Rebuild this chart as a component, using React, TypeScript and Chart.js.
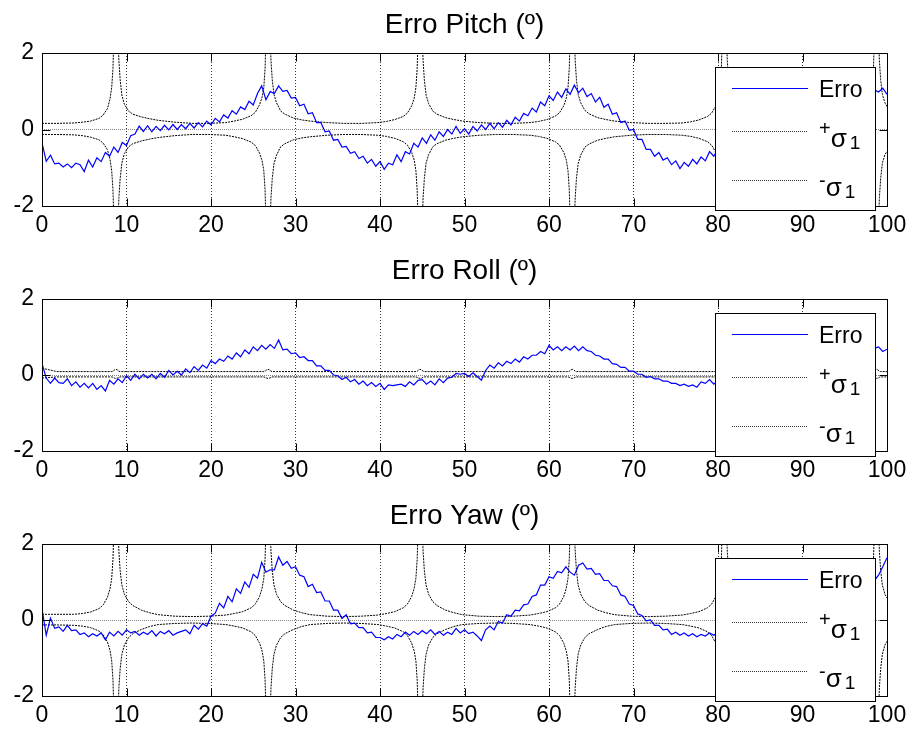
import React, { useEffect, useRef } from 'react';
import { Chart, registerables } from 'chart.js';

Chart.register(...registerables);

const FONT = '"Liberation Sans", Arial, Helvetica, sans-serif';

const xTicks = [0, 10, 20, 30, 40, 50, 60, 70, 80, 90, 100];
const yTicks = [-2, 0, 2];
const titles = ['Erro Pitch (º)', 'Erro Roll (º)', 'Erro Yaw (º)'];
const legendNames = ['Erro', '+σ1', '-σ1'];

// time samples of the error series (every 0.5 s)
const erroX = Array.from({ length: 201 }, (_, i) => i * 0.5);

const pitchErro = [
  -0.35, -0.83, -0.67, -0.90, -0.88, -0.98, -0.90, -1.00, -0.88, -0.92,
  -1.10, -0.80, -0.98, -0.74, -0.84, -0.60, -0.70, -0.46, -0.60, -0.34,
  -0.42, -0.16, -0.12, 0.09, -0.05, 0.10, -0.06, 0.08, -0.03, 0.11,
  -0.01, 0.13, 0.00, 0.13, 0.02, 0.16, 0.04, 0.18, 0.07, 0.22,
  0.12, 0.29, 0.20, 0.38, 0.30, 0.49, 0.40, 0.59, 0.52, 0.74,
  0.64, 0.94, 1.14, 0.78, 0.99, 0.94, 1.14, 1.00, 1.02, 0.82,
  0.84, 0.62, 0.66, 0.41, 0.44, 0.18, 0.18, -0.06, -0.04, -0.28,
  -0.26, -0.46, -0.44, -0.62, -0.58, -0.76, -0.70, -0.88, -0.78, -0.96,
  -0.84, -1.04, -0.88, -0.92, -0.66, -0.84, -0.58, -0.64, -0.36, -0.46,
  -0.22, -0.36, -0.14, -0.28, -0.06, -0.18, 0.00, -0.12, 0.08, -0.10,
  0.02, -0.12, 0.08, -0.04, 0.12, 0.00, 0.16, 0.02, 0.18, 0.06,
  0.24, 0.12, 0.32, 0.22, 0.42, 0.36, 0.56, 0.46, 0.72, 0.62,
  0.88, 0.76, 0.98, 0.84, 1.06, 0.92, 1.16, 0.96, 1.08, 0.86,
  0.94, 0.72, 0.84, 0.58, 0.66, 0.40, 0.44, 0.18, 0.22, -0.02,
  0.00, -0.26, -0.26, -0.52, -0.52, -0.70, -0.60, -0.80, -0.74, -0.92,
  -0.82, -1.02, -0.86, -0.96, -0.78, -0.90, -0.72, -0.82, -0.58, -0.70,
  -0.52, -0.54, -0.40, -0.42, -0.28, -0.30, -0.18, -0.16, -0.06, -0.08,
  0.02, 0.00, 0.06, 0.04, 0.10, 0.12, 0.14, 0.18, 0.20, 0.26,
  0.26, 0.34, 0.36, 0.44, 0.46, 0.54, 0.56, 0.64, 0.66, 0.74,
  0.76, 0.84, 0.84, 0.92, 0.90, 0.98, 0.94, 1.04, 0.98, 1.08,
  0.92,
];

const rollErro = [
  0.30, -0.08, -0.22, -0.08, -0.20, -0.22, -0.10, -0.28, -0.18, -0.32,
  -0.22, -0.34, -0.22, -0.38, -0.28, -0.42, -0.14, -0.24, -0.10, -0.20,
  -0.02, -0.14, 0.02, -0.10, 0.02, -0.08, 0.02, -0.10, 0.04, -0.06,
  0.12, 0.00, 0.10, 0.00, 0.16, 0.06, 0.22, 0.12, 0.26, 0.18,
  0.38, 0.30, 0.42, 0.36, 0.50, 0.42, 0.58, 0.48, 0.66, 0.56,
  0.74, 0.64, 0.78, 0.68, 0.80, 0.70, 0.92, 0.66, 0.68, 0.56,
  0.58, 0.46, 0.48, 0.38, 0.38, 0.24, 0.24, 0.12, 0.12, 0.00,
  -0.02, -0.12, -0.06, -0.18, -0.12, -0.24, -0.16, -0.28, -0.20, -0.30,
  -0.22, -0.38, -0.26, -0.28, -0.26, -0.24, -0.30, -0.18, -0.26, -0.14,
  -0.12, -0.24, -0.16, -0.26, -0.10, -0.20, -0.08, -0.06, 0.04, 0.02,
  0.04, -0.04, 0.06, -0.04, -0.14, 0.12, 0.26, 0.18, 0.32, 0.24,
  0.36, 0.30, 0.42, 0.34, 0.48, 0.42, 0.52, 0.52, 0.62, 0.56,
  0.78, 0.66, 0.74, 0.64, 0.74, 0.66, 0.76, 0.64, 0.74, 0.64,
  0.62, 0.52, 0.50, 0.42, 0.42, 0.30, 0.28, 0.20, 0.20, 0.10,
  0.10, 0.02, 0.02, -0.06, -0.04, -0.10, -0.10, -0.16, -0.16, -0.22,
  -0.22, -0.28, -0.24, -0.30, -0.26, -0.32, -0.18, -0.22, -0.12, -0.24,
  -0.14, -0.16, -0.10, -0.12, -0.06, -0.08, -0.02, 0.00, 0.04, 0.02,
  0.08, 0.10, 0.14, 0.12, 0.18, 0.22, 0.24, 0.28, 0.30, 0.34,
  0.36, 0.40, 0.42, 0.46, 0.48, 0.50, 0.54, 0.56, 0.58, 0.60,
  0.62, 0.64, 0.66, 0.68, 0.70, 0.68, 0.72, 0.70, 0.74, 0.62,
  0.68,
];

const yawErro = [
  0.30, -0.40, 0.05, -0.22, -0.18, -0.30, -0.14, -0.28, -0.26, -0.38,
  -0.34, -0.44, -0.36, -0.42, -0.34, -0.52, -0.32, -0.42, -0.30, -0.40,
  -0.26, -0.34, -0.30, -0.40, -0.32, -0.38, -0.28, -0.42, -0.30, -0.36,
  -0.28, -0.40, -0.34, -0.30, -0.26, -0.36, -0.14, -0.24, -0.10, -0.16,
  0.10, 0.18, 0.44, 0.32, 0.62, 0.48, 0.82, 0.70, 1.00, 0.86,
  1.20, 1.10, 1.52, 1.26, 1.32, 1.32, 1.66, 1.44, 1.54, 1.36,
  1.40, 1.18, 1.14, 0.88, 0.94, 0.72, 0.74, 0.50, 0.50, 0.26,
  0.26, 0.04, 0.14, -0.10, -0.08, -0.20, -0.20, -0.34, -0.32, -0.46,
  -0.46, -0.52, -0.44, -0.50, -0.38, -0.44, -0.32, -0.40, -0.30, -0.38,
  -0.28, -0.36, -0.26, -0.38, -0.30, -0.40, -0.32, -0.38, -0.22, -0.34,
  -0.26, -0.36, -0.32, -0.42, -0.54, -0.26, -0.16, -0.26, -0.04, -0.08,
  0.14, 0.10, 0.26, 0.24, 0.40, 0.42, 0.62, 0.66, 0.92, 0.92,
  1.14, 1.10, 1.28, 1.24, 1.40, 1.26, 1.18, 1.44, 1.50, 1.34,
  1.36, 1.20, 1.22, 1.04, 1.04, 0.90, 0.88, 0.66, 0.62, 0.42,
  0.38, 0.16, 0.12, -0.02, 0.00, -0.14, -0.14, -0.26, -0.24, -0.38,
  -0.32, -0.40, -0.34, -0.42, -0.36, -0.44, -0.38, -0.42, -0.34, -0.40,
  -0.32, -0.34, -0.26, -0.28, -0.20, -0.18, -0.12, -0.06, 0.00, 0.08,
  0.14, 0.20, 0.26, 0.32, 0.38, 0.44, 0.50, 0.56, 0.62, 0.68,
  0.74, 0.80, 0.86, 0.90, 0.96, 1.00, 1.04, 1.08, 1.12, 1.14,
  1.18, 1.20, 1.22, 1.24, 1.26, 1.28, 1.30, 1.04, 1.18, 1.40,
  1.64,
];

// sample times of the ±sigma bounds (denser around each divergence)
const sigmaX = [
  0, 1.75, 3.75, 4.75, 5.75, 6.75, 7.25, 7.75, 8.05, 8.25, 8.4, 8.55, 8.75, 8.95, 9.1, 9.25, 9.45, 9.75, 10.25, 10.75, 11.75, 12.75, 13.75, 15.75, 17.75,
  19.75, 21.75, 22.75, 23.75, 24.75, 25.25, 25.75, 26.05, 26.25, 26.4, 26.55, 26.75, 26.95, 27.1, 27.25, 27.45, 27.75, 28.25, 28.75, 29.75, 30.75, 31.75, 33.75, 35.75,
  37.75, 39.75, 40.75, 41.75, 42.75, 43.25, 43.75, 44.05, 44.25, 44.4, 44.55, 44.75, 44.95, 45.1, 45.25, 45.45, 45.75, 46.25, 46.75, 47.75, 48.75, 49.75, 51.75, 53.75,
  55.75, 57.75, 58.75, 59.75, 60.75, 61.25, 61.75, 62.05, 62.25, 62.4, 62.55, 62.75, 62.95, 63.1, 63.25, 63.45, 63.75, 64.25, 64.75, 65.75, 66.75, 67.75, 69.75, 71.75,
  73.75, 75.75, 76.75, 77.75, 78.75, 79.25, 79.75, 80.05, 80.25, 80.4, 80.55, 80.75, 80.95, 81.1, 81.25, 81.45, 81.75, 82.25, 82.75, 83.75, 84.75, 85.75, 87.75, 89.75,
  91.75, 93.75, 94.75, 95.75, 96.75, 97.25, 97.75, 98.05, 98.25, 98.4, 98.55, 98.75, 98.95, 99.1, 99.25, 99.45, 99.75, 100,
];

const pitchSigmaPlus = [
  0.16, 0.16, 0.17, 0.19, 0.22, 0.29, 0.38, 0.55, 0.80, 1.10, 1.60, 2.80, 6.00, 2.80, 1.80, 1.30, 0.90, 0.66, 0.48, 0.40, 0.33, 0.28, 0.24, 0.19, 0.16,
  0.16, 0.18, 0.22, 0.27, 0.36, 0.45, 0.65, 0.85, 1.10, 1.60, 2.80, 6.00, 2.80, 1.80, 1.30, 0.92, 0.70, 0.48, 0.40, 0.30, 0.25, 0.22, 0.18, 0.16,
  0.16, 0.18, 0.21, 0.26, 0.34, 0.43, 0.62, 0.82, 1.10, 1.60, 2.80, 6.00, 2.80, 1.80, 1.30, 0.90, 0.68, 0.48, 0.40, 0.31, 0.26, 0.22, 0.18, 0.16,
  0.16, 0.18, 0.21, 0.26, 0.35, 0.44, 0.62, 0.82, 1.10, 1.60, 2.80, 6.00, 2.80, 1.80, 1.30, 0.92, 0.70, 0.50, 0.41, 0.31, 0.26, 0.22, 0.18, 0.16,
  0.16, 0.17, 0.20, 0.25, 0.34, 0.43, 0.62, 0.82, 1.10, 1.60, 2.80, 6.00, 2.80, 1.80, 1.30, 0.92, 0.70, 0.50, 0.41, 0.31, 0.26, 0.22, 0.18, 0.16,
  0.16, 0.18, 0.21, 0.26, 0.35, 0.44, 0.62, 0.82, 1.10, 1.60, 2.80, 6.00, 2.80, 1.80, 1.30, 0.92, 0.70, 0.60,
];
const pitchSigmaMinus = [
  -0.13, -0.13, -0.14, -0.16, -0.20, -0.27, -0.36, -0.53, -0.78, -1.08, -1.58, -2.80, -6.00, -2.80, -1.78, -1.28, -0.88, -0.63, -0.45, -0.37, -0.30, -0.25, -0.21, -0.16, -0.13,
  -0.13, -0.15, -0.19, -0.24, -0.33, -0.42, -0.62, -0.82, -1.08, -1.58, -2.80, -6.00, -2.80, -1.78, -1.28, -0.90, -0.67, -0.45, -0.37, -0.27, -0.22, -0.19, -0.15, -0.13,
  -0.13, -0.15, -0.18, -0.23, -0.32, -0.41, -0.60, -0.80, -1.08, -1.58, -2.80, -6.00, -2.80, -1.78, -1.28, -0.88, -0.66, -0.45, -0.37, -0.28, -0.23, -0.19, -0.15, -0.13,
  -0.13, -0.15, -0.18, -0.23, -0.32, -0.41, -0.60, -0.80, -1.08, -1.58, -2.80, -6.00, -2.80, -1.78, -1.28, -0.89, -0.67, -0.46, -0.38, -0.28, -0.23, -0.19, -0.15, -0.13,
  -0.13, -0.15, -0.18, -0.23, -0.32, -0.41, -0.60, -0.80, -1.08, -1.58, -2.80, -6.00, -2.80, -1.78, -1.28, -0.88, -0.66, -0.45, -0.37, -0.28, -0.23, -0.19, -0.15, -0.13,
  -0.13, -0.15, -0.18, -0.23, -0.32, -0.41, -0.60, -0.80, -1.08, -1.58, -2.80, -6.00, -2.80, -1.78, -1.28, -0.88, -0.66, -0.57,
];

const rollSigmaPlus = [
  0.18, 0.09, 0.09, 0.09, 0.09, 0.09, 0.09, 0.09, 0.09, 0.09, 0.10, 0.13, 0.15, 0.13, 0.10, 0.09, 0.09, 0.09, 0.09, 0.09, 0.09, 0.09, 0.09, 0.09, 0.09,
  0.09, 0.09, 0.09, 0.09, 0.09, 0.09, 0.09, 0.09, 0.09, 0.10, 0.13, 0.15, 0.13, 0.10, 0.09, 0.09, 0.09, 0.09, 0.09, 0.09, 0.09, 0.09, 0.09, 0.09,
  0.09, 0.09, 0.09, 0.09, 0.09, 0.09, 0.09, 0.09, 0.09, 0.10, 0.13, 0.15, 0.13, 0.10, 0.09, 0.09, 0.09, 0.09, 0.09, 0.09, 0.09, 0.09, 0.09, 0.09,
  0.09, 0.09, 0.09, 0.09, 0.09, 0.09, 0.09, 0.09, 0.09, 0.10, 0.13, 0.15, 0.13, 0.10, 0.09, 0.09, 0.09, 0.09, 0.09, 0.09, 0.09, 0.09, 0.09, 0.09,
  0.09, 0.09, 0.09, 0.09, 0.09, 0.09, 0.09, 0.09, 0.09, 0.10, 0.13, 0.15, 0.13, 0.10, 0.09, 0.09, 0.09, 0.09, 0.09, 0.09, 0.09, 0.09, 0.09, 0.09,
  0.09, 0.09, 0.09, 0.09, 0.09, 0.09, 0.09, 0.09, 0.09, 0.10, 0.13, 0.15, 0.13, 0.10, 0.09, 0.09, 0.09, 0.09,
];
const rollSigmaMinus = [
  -0.08, -0.05, -0.05, -0.05, -0.05, -0.05, -0.05, -0.05, -0.05, -0.05, -0.06, -0.08, -0.09, -0.08, -0.06, -0.05, -0.05, -0.05, -0.05, -0.05, -0.05, -0.05, -0.05, -0.05, -0.05,
  -0.05, -0.05, -0.05, -0.05, -0.05, -0.05, -0.05, -0.05, -0.05, -0.06, -0.08, -0.09, -0.08, -0.06, -0.05, -0.05, -0.05, -0.05, -0.05, -0.05, -0.05, -0.05, -0.05, -0.05,
  -0.05, -0.05, -0.05, -0.05, -0.05, -0.05, -0.05, -0.05, -0.05, -0.06, -0.08, -0.09, -0.08, -0.06, -0.05, -0.05, -0.05, -0.05, -0.05, -0.05, -0.05, -0.05, -0.05, -0.05,
  -0.05, -0.05, -0.05, -0.05, -0.05, -0.05, -0.05, -0.05, -0.05, -0.06, -0.08, -0.09, -0.08, -0.06, -0.05, -0.05, -0.05, -0.05, -0.05, -0.05, -0.05, -0.05, -0.05, -0.05,
  -0.05, -0.05, -0.05, -0.05, -0.05, -0.05, -0.05, -0.05, -0.05, -0.06, -0.08, -0.09, -0.08, -0.06, -0.05, -0.05, -0.05, -0.05, -0.05, -0.05, -0.05, -0.05, -0.05, -0.05,
  -0.05, -0.05, -0.05, -0.05, -0.05, -0.05, -0.05, -0.05, -0.05, -0.06, -0.08, -0.09, -0.08, -0.06, -0.05, -0.05, -0.05, -0.05,
];

const yawSigmaPlus = [
  0.15, 0.15, 0.15, 0.17, 0.21, 0.30, 0.40, 0.60, 0.82, 1.10, 1.60, 2.80, 6.00, 2.80, 1.80, 1.30, 0.92, 0.68, 0.48, 0.38, 0.26, 0.19, 0.14, 0.10, 0.09,
  0.10, 0.13, 0.17, 0.22, 0.32, 0.42, 0.62, 0.84, 1.10, 1.60, 2.80, 6.00, 2.80, 1.80, 1.30, 0.92, 0.68, 0.48, 0.38, 0.26, 0.19, 0.14, 0.10, 0.09,
  0.10, 0.13, 0.17, 0.22, 0.32, 0.42, 0.62, 0.84, 1.10, 1.60, 2.80, 6.00, 2.80, 1.80, 1.30, 0.92, 0.68, 0.48, 0.38, 0.26, 0.19, 0.14, 0.10, 0.09,
  0.10, 0.13, 0.17, 0.22, 0.32, 0.42, 0.62, 0.84, 1.10, 1.60, 2.80, 6.00, 2.80, 1.80, 1.30, 0.92, 0.68, 0.48, 0.38, 0.26, 0.19, 0.14, 0.10, 0.09,
  0.10, 0.13, 0.17, 0.22, 0.32, 0.42, 0.62, 0.84, 1.10, 1.60, 2.80, 6.00, 2.80, 1.80, 1.30, 0.92, 0.68, 0.48, 0.38, 0.26, 0.19, 0.14, 0.10, 0.09,
  0.10, 0.13, 0.17, 0.22, 0.32, 0.42, 0.62, 0.84, 1.10, 1.60, 2.80, 6.00, 2.80, 1.80, 1.30, 0.92, 0.68, 0.58,
];
const yawSigmaMinus = [
  -0.13, -0.13, -0.14, -0.16, -0.20, -0.29, -0.39, -0.58, -0.80, -1.08, -1.58, -2.80, -6.00, -2.80, -1.78, -1.28, -0.90, -0.66, -0.46, -0.36, -0.25, -0.17, -0.12, -0.09, -0.08,
  -0.09, -0.12, -0.16, -0.21, -0.31, -0.41, -0.61, -0.82, -1.08, -1.58, -2.80, -6.00, -2.80, -1.78, -1.28, -0.90, -0.66, -0.46, -0.36, -0.25, -0.17, -0.12, -0.09, -0.08,
  -0.09, -0.12, -0.16, -0.21, -0.31, -0.41, -0.61, -0.82, -1.08, -1.58, -2.80, -6.00, -2.80, -1.78, -1.28, -0.90, -0.66, -0.46, -0.36, -0.25, -0.17, -0.12, -0.09, -0.08,
  -0.09, -0.12, -0.16, -0.21, -0.31, -0.41, -0.61, -0.82, -1.08, -1.58, -2.80, -6.00, -2.80, -1.78, -1.28, -0.90, -0.66, -0.46, -0.36, -0.25, -0.17, -0.12, -0.09, -0.08,
  -0.09, -0.12, -0.16, -0.21, -0.31, -0.41, -0.61, -0.82, -1.08, -1.58, -2.80, -6.00, -2.80, -1.78, -1.28, -0.90, -0.66, -0.46, -0.36, -0.25, -0.17, -0.12, -0.09, -0.08,
  -0.09, -0.12, -0.16, -0.21, -0.31, -0.41, -0.61, -0.82, -1.08, -1.58, -2.80, -6.00, -2.80, -1.78, -1.28, -0.90, -0.66, -0.56,
];

const ERRO_COLOR = '#0000ff';
const SIGMA_COLOR = '#000000';
const SIGMA_DASH = [2, 1];

type PanelProps = {
  top: number;
  height: number;
  plotTop: number;
  axisHeight: number;
  title: string;
  erro: number[];
  sPlus: number[];
  sMinus: number[];
};

function drawLegend(ctx: CanvasRenderingContext2D, ca: any) {
  const bw = 160;
  const bh = 143;
  const bx = Math.round(ca.right) - 12 - bw;
  const by = Math.round(ca.top) + 14;
  ctx.save();
  ctx.setLineDash([]);
  ctx.fillStyle = '#ffffff';
  ctx.fillRect(bx, by, bw, bh);
  ctx.strokeStyle = '#000';
  ctx.lineWidth = 1;
  ctx.strokeRect(bx + 0.5, by + 0.5, bw, bh);

  const lx0 = bx + 17;
  const lx1 = bx + 93;
  const tx = bx + 104;
  const rows = [by + 21.5, by + 64.5, by + 113.5];

  ctx.strokeStyle = ERRO_COLOR;
  ctx.beginPath();
  ctx.moveTo(lx0, rows[0]);
  ctx.lineTo(lx1, rows[0]);
  ctx.stroke();
  ctx.fillStyle = '#000';
  ctx.textAlign = 'left';
  ctx.textBaseline = 'alphabetic';
  ctx.font = `23px ${FONT}`;
  ctx.fillText(legendNames[0], tx, by + 30);

  for (let r = 1; r < 3; r++) {
    const y = rows[r];
    ctx.strokeStyle = '#333';
    ctx.setLineDash([1, 1]);
    ctx.beginPath();
    ctx.moveTo(lx0, y);
    ctx.lineTo(lx1, y);
    ctx.stroke();
    ctx.setLineDash([]);
    const name = legendNames[r];
    const sign = name.charAt(0);
    const greek = name.charAt(1);
    const sub = name.slice(2);
    ctx.font = `20px ${FONT}`;
    ctx.fillText(sign, tx, y + (r === 1 ? 3 : 6));
    const sw = ctx.measureText(sign).width;
    ctx.font = `26px ${FONT}`;
    ctx.fillText(greek, tx + sw, y + 15);
    const gw = ctx.measureText(greek).width;
    ctx.font = `19px ${FONT}`;
    ctx.fillText(sub, tx + sw + gw + 3, y + 17);
  }
  ctx.restore();
}

function Panel(p: PanelProps) {
  const ref = useRef<HTMLCanvasElement | null>(null);
  useEffect(() => {
    if (!ref.current) return;
    const decor = {
      id: 'matlabDecor',
      afterDraw(chart: any) {
        const ctx: CanvasRenderingContext2D = chart.ctx;
        const ca = chart.chartArea;
        const xs = chart.scales.x;
        const ys = chart.scales.y;
        ctx.save();
        ctx.setLineDash([]);
        ctx.strokeStyle = '#000';
        ctx.lineWidth = 1;
        const L = Math.round(ca.left) + 0.5;
        const R = Math.round(ca.right) + 0.5;
        const T = Math.round(ca.top) + 0.5;
        const B = Math.round(ca.bottom) + 0.5;
        ctx.beginPath();
        for (const v of xTicks) {
          const px = Math.round(xs.getPixelForValue(v)) + 0.5;
          ctx.moveTo(px, B);
          ctx.lineTo(px, B - 8);
          ctx.moveTo(px, T);
          ctx.lineTo(px, T + 8);
        }
        for (const v of yTicks) {
          const py = Math.round(ys.getPixelForValue(v)) + 0.5;
          ctx.moveTo(L, py);
          ctx.lineTo(L + 8, py);
          ctx.moveTo(R, py);
          ctx.lineTo(R - 8, py);
        }
        ctx.stroke();
        ctx.strokeRect(L, T, R - L, B - T);

        ctx.fillStyle = '#000';
        ctx.font = `28px ${FONT}`;
        ctx.textAlign = 'center';
        ctx.textBaseline = 'alphabetic';
        ctx.fillText(p.title, (ca.left + ca.right) / 2, ca.top - 20);
        ctx.restore();

        drawLegend(ctx, ca);
      },
    };

    const chart = new Chart(ref.current, {
      type: 'line',
      data: {
        datasets: [
          {
            label: legendNames[0],
            data: erroX.map((x, i) => ({ x, y: p.erro[i] })),
            borderColor: ERRO_COLOR,
            borderWidth: 1.2,
            pointRadius: 0,
            tension: 0,
            fill: false,
          },
          {
            label: legendNames[1],
            data: sigmaX.map((x, i) => ({ x, y: p.sPlus[i] })),
            borderColor: SIGMA_COLOR,
            borderWidth: 1,
            borderDash: SIGMA_DASH,
            pointRadius: 0,
            tension: 0,
            fill: false,
          },
          {
            label: legendNames[2],
            data: sigmaX.map((x, i) => ({ x, y: p.sMinus[i] })),
            borderColor: SIGMA_COLOR,
            borderWidth: 1,
            borderDash: SIGMA_DASH,
            pointRadius: 0,
            tension: 0,
            fill: false,
          },
        ],
      },
      options: {
        animation: false,
        responsive: false,
        maintainAspectRatio: false,
        devicePixelRatio: 1,
        events: [],
        layout: { padding: { top: p.plotTop, right: 26, left: 0, bottom: 0 } },
        plugins: {
          legend: { display: false },
          tooltip: { enabled: false },
          title: { display: false },
        },
        scales: {
          x: {
            type: 'linear',
            min: 0,
            max: 100,
            afterFit: (s: any) => {
              s.height = p.axisHeight;
            },
            afterBuildTicks: (s: any) => {
              s.ticks = xTicks.map((v) => ({ value: v }));
            },
            ticks: {
              font: { family: FONT, size: 23 },
              color: '#000',
              padding: 6,
              maxRotation: 0,
              autoSkip: false,
            },
            grid: { color: '#333', lineWidth: 1, drawTicks: false },
            border: { display: false, dash: [1, 2] },
          },
          y: {
            type: 'linear',
            min: -2,
            max: 2,
            afterFit: (s: any) => {
              s.width = 42;
            },
            afterBuildTicks: (s: any) => {
              s.ticks = yTicks.map((v) => ({ value: v }));
            },
            ticks: {
              font: { family: FONT, size: 23 },
              color: '#000',
              padding: 8,
            },
            grid: { color: '#888', lineWidth: 1, drawTicks: false },
            border: { display: false, dash: [1, 1] },
          },
        },
      } as any,
      plugins: [decor],
    });
    return () => chart.destroy();
  }, []);

  return (
    <canvas
      ref={ref}
      width={913}
      height={p.height}
      style={{ position: 'absolute', left: 0, top: p.top, width: 913, height: p.height, display: 'block' }}
    />
  );
}

export default function App() {
  return (
    <div style={{ position: 'absolute', left: 0, top: 0, width: 913, height: 731, background: '#fff', overflow: 'hidden' }}>
      <Panel top={0} height={243} plotTop={53} axisHeight={37} title={titles[0]} erro={pitchErro} sPlus={pitchSigmaPlus} sMinus={pitchSigmaMinus} />
      <Panel top={243} height={245} plotTop={56} axisHeight={37} title={titles[1]} erro={rollErro} sPlus={rollSigmaPlus} sMinus={rollSigmaMinus} />
      <Panel top={488} height={243} plotTop={56} axisHeight={35} title={titles[2]} erro={yawErro} sPlus={yawSigmaPlus} sMinus={yawSigmaMinus} />
    </div>
  );
}
